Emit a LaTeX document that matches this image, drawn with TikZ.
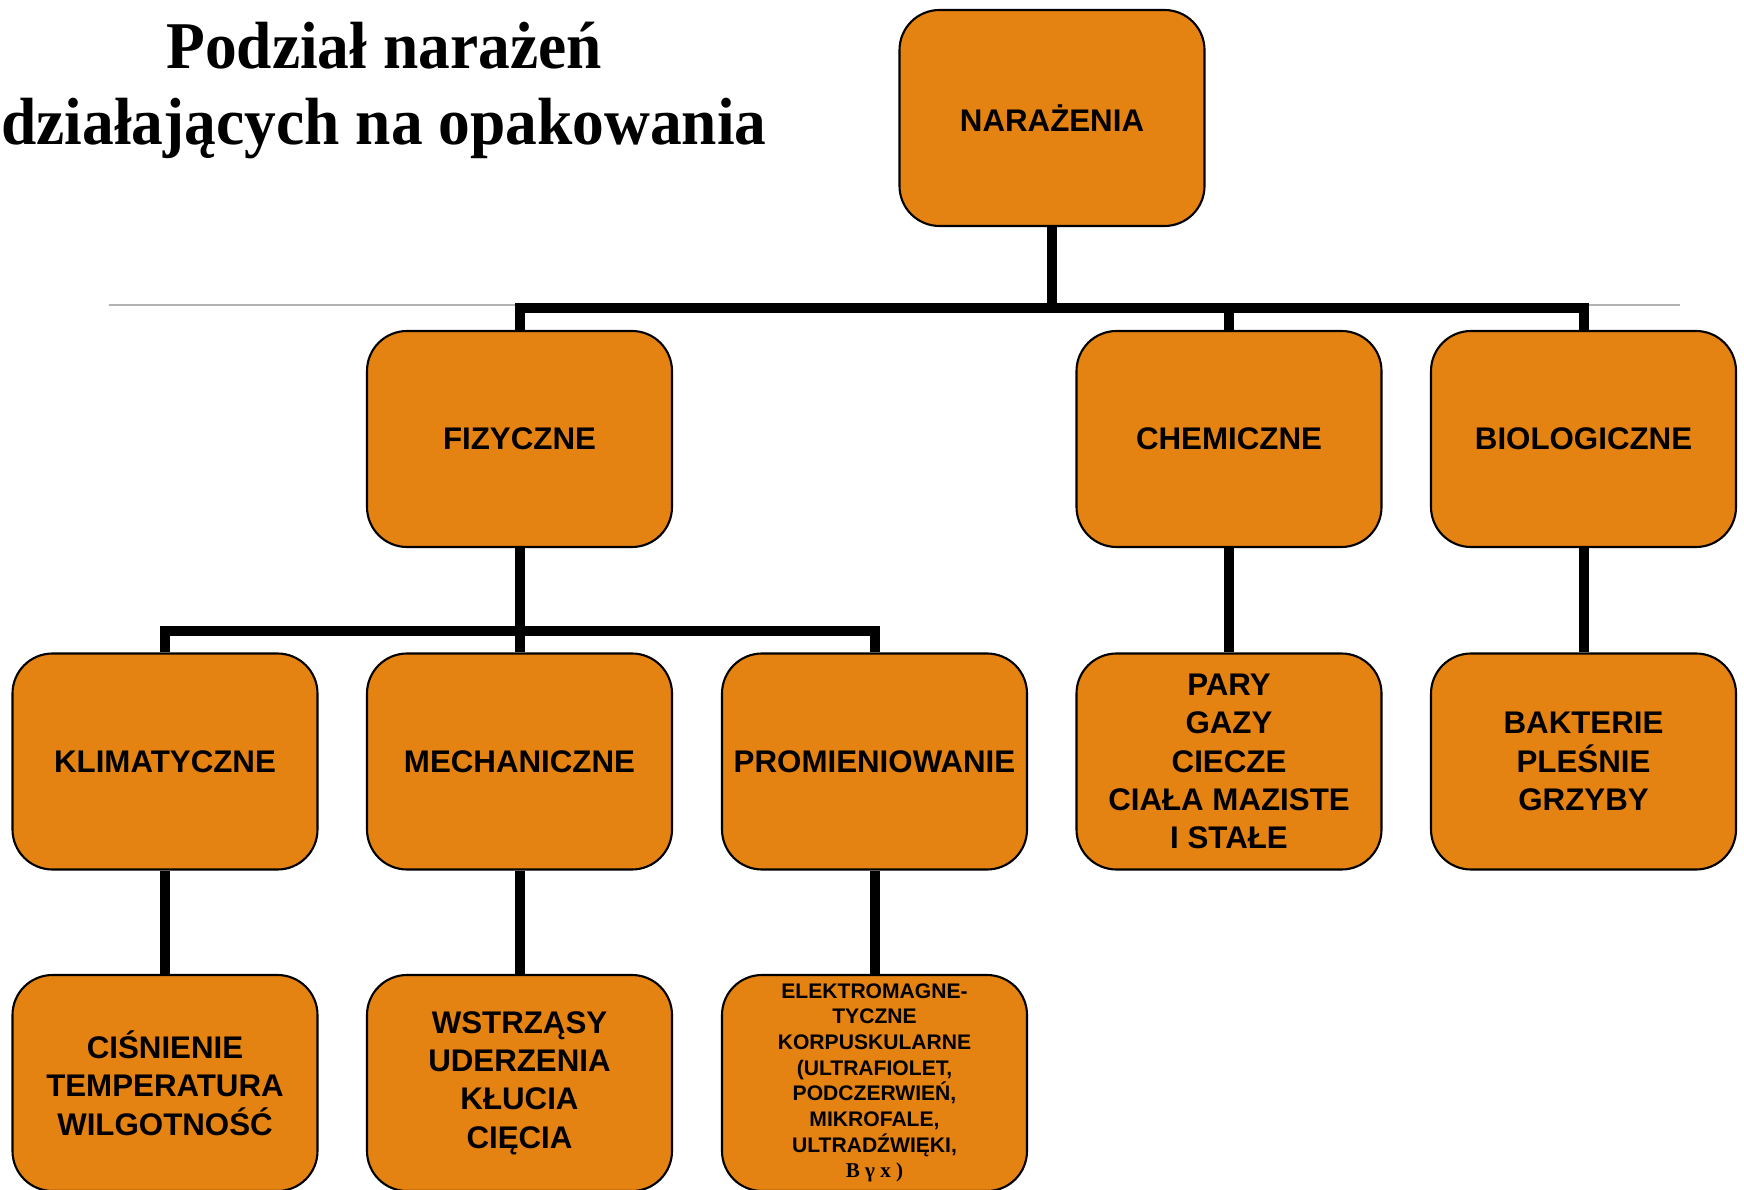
\documentclass[tikz,border=0pt]{standalone}
\usepackage{fontspec}
\setmainfont{Liberation Sans}
\newfontfamily\titlefont[FakeStretch=0.95]{Liberation Serif}
\newfontfamily\seriffont{Liberation Serif}
\definecolor{boxorange}{RGB}{228,130,18}

\begin{document}
\begin{tikzpicture}[
    box/.style={draw=black, line width=0.6pt, fill=boxorange, rounded corners=0.4cm,
        minimum width=3.05cm, minimum height=2.16cm, align=center, inner sep=1pt,
        font=\bfseries\fontsize{8.9}{10.9}\selectfont},
    smallbox/.style={box, font=\bfseries\fontsize{6}{7.3}\selectfont},
    conn/.style={line width=0.1cm},
    titletext/.style={anchor=base, inner sep=0pt,
        font=\titlefont\bfseries\fontsize{19}{21.6}\selectfont}
]
\useasboundingbox (0,0) rectangle (17.44,-11.90);

% kolumny i wiersze
\pgfmathsetmacro{\colA}{1.65}
\pgfmathsetmacro{\colB}{5.195}
\pgfmathsetmacro{\colC}{8.745}
\pgfmathsetmacro{\colD}{12.29}
\pgfmathsetmacro{\colE}{15.835}
\pgfmathsetmacro{\rowB}{-4.39}
\pgfmathsetmacro{\rowC}{-7.615}
\pgfmathsetmacro{\rowD}{-10.83}

% tytuł
\node[titletext] (title1) at (3.84,-0.69) {Podział narażeń};
\node[titletext] (title2) at (3.84,-1.45) {działających na opakowania};

% cienka linia pod tytułem
\draw[gray!60, line width=0.4pt] (1.09,-3.05) -- (16.80,-3.05);

% bloki
\node[box] (nar) at (10.52,-1.18) {NARAŻENIA};

\node[box] (fiz) at (\colB,\rowB) {FIZYCZNE};
\node[box] (chem) at (\colD,\rowB) {CHEMICZNE};
\node[box] (bio) at (\colE,\rowB) {BIOLOGICZNE};

\node[box] (klim) at (\colA,\rowC) {KLIMATYCZNE};
\node[box] (mech) at (\colB,\rowC) {MECHANICZNE};
\node[box] (prom) at (\colC,\rowC) {PROMIENIOWANIE};
\node[box] (pary) at (\colD,\rowC) {PARY\\GAZY\\CIECZE\\CIAŁA MAZISTE\\I STAŁE};
\node[box] (bakt) at (\colE,\rowC) {BAKTERIE\\PLEŚNIE\\GRZYBY};

\node[box] (cis) at (\colA,\rowD) {CIŚNIENIE\\TEMPERATURA\\WILGOTNOŚĆ};
\node[box] (wstr) at (\colB,\rowD) {WSTRZĄSY\\UDERZENIA\\KŁUCIA\\CIĘCIA};
\node[smallbox] (elek) at (\colC,\rowD) {ELEKTROMAGNE-\\TYCZNE\\KORPUSKULARNE\\(ULTRAFIOLET,\\PODCZERWIEŃ,\\MIKROFALE,\\ULTRADŹWIĘKI,\\{\seriffont B γ x )}};

% połączenia
\coordinate (busA) at (10.52,-3.08);
\coordinate (busB) at (\colB,-6.31);
\draw[conn] (nar.south) -- (busA);
\draw[conn] (fiz.north) |- (busA) -| (bio.north);
\draw[conn] (chem.north) -- (chem.north |- busA);
\draw[conn] (fiz.south) -- (mech.north);
\draw[conn] (klim.north) |- (busB) -| (prom.north);
\foreach \a/\b in {chem/pary, bio/bakt, klim/cis, mech/wstr, prom/elek}
    \draw[conn] (\a.south) -- (\b.north);
\end{tikzpicture}
\end{document}
